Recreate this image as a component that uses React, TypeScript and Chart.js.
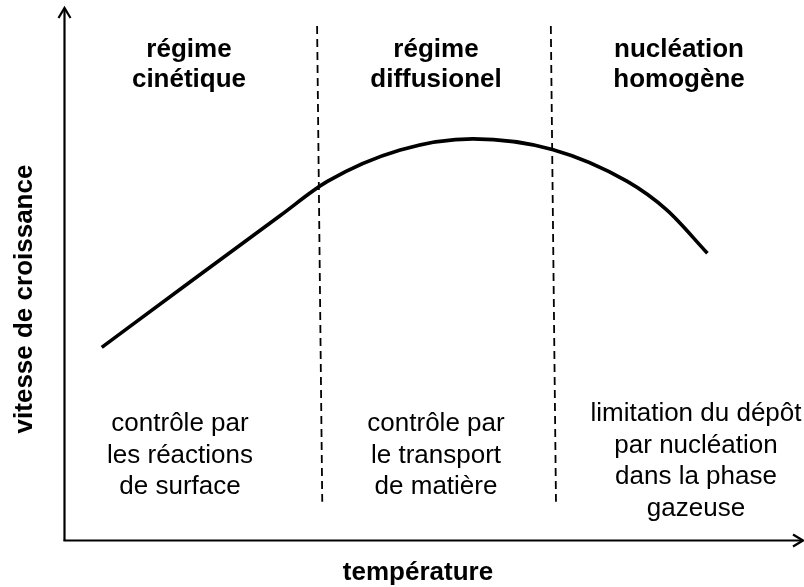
import React, { useEffect, useRef } from "react";
import { Chart, registerables } from "chart.js";

Chart.register(...registerables);

// Growth-rate curve (arbitrary units: temperature 0–10, rate 0–10)
const curveTemp = [0.5, 1.71, 2.93, 3.57, 4.56, 5.55, 6.63, 7.65, 8.19, 8.74];
const curveRate = [3.62, 4.86, 6.1, 6.74, 7.33, 7.54, 7.34, 6.74, 6.2, 5.39];

// Regime boundaries (dashed lines): [x at top, x at bottom]
const boundary1Temp = [3.43, 3.5];
const boundary2Temp = [6.61, 6.68];
const boundaryRate = [9.66, 0.72];

const regimeTitles = [
  ["régime", "cinétique"],
  ["régime", "diffusionel"],
  ["nucléation", "homogène"],
];
const regimeDescriptions = [
  ["contrôle par", "les réactions", "de surface"],
  ["contrôle par", "le transport", "de matière"],
  ["limitation du dépôt", "par nucléation", "dans la phase", "gazeuse"],
];
const xAxisTitle = "température";
const yAxisTitle = "vitesse de croissance";

const FONT = "'Liberation Sans', Arial, Helvetica, sans-serif";

const overlayPlugin = {
  id: "overlay",
  afterDraw(chart: any) {
    const ctx = chart.ctx as CanvasRenderingContext2D;
    const { left, right, top, bottom } = chart.chartArea;
    ctx.save();
    ctx.strokeStyle = "#000";
    ctx.fillStyle = "#000";
    ctx.lineWidth = 2.2;
    ctx.lineCap = "butt";
    // y axis
    ctx.beginPath();
    ctx.moveTo(left - 0.5, bottom + 1);
    ctx.lineTo(left - 0.5, top);
    ctx.stroke();
    ctx.beginPath();
    ctx.moveTo(left - 6.5, top + 10);
    ctx.lineTo(left - 0.5, top);
    ctx.lineTo(left + 5.5, top + 10);
    ctx.stroke();
    // x axis
    const xa = bottom + 0.5;
    ctx.beginPath();
    ctx.moveTo(left - 1.5, xa);
    ctx.lineTo(right + 3, xa);
    ctx.stroke();
    ctx.beginPath();
    ctx.moveTo(right - 7, xa - 6);
    ctx.lineTo(right + 3, xa);
    ctx.lineTo(right - 7, xa + 6);
    ctx.stroke();

    // regime titles
    ctx.textAlign = "center";
    ctx.textBaseline = "alphabetic";
    ctx.font = `bold 26px ${FONT}`;
    const titleCx = [189, 436, 679];
    regimeTitles.forEach((lines, i) => {
      lines.forEach((t, j) => ctx.fillText(t, titleCx[i], 57 + j * 30));
    });
    // descriptions
    ctx.font = `26px ${FONT}`;
    const descCx = [180, 436, 696];
    const descTop = [431, 431, 421];
    regimeDescriptions.forEach((lines, i) => {
      lines.forEach((t, j) => ctx.fillText(t, descCx[i], descTop[i] + j * 31.5));
    });
    // axis titles
    ctx.font = `bold 26px ${FONT}`;
    ctx.fillText(xAxisTitle, 418, 580);
    ctx.translate(25, 299);
    ctx.rotate(-Math.PI / 2);
    ctx.textBaseline = "middle";
    ctx.fillText(yAxisTitle, 0, 0);
    ctx.restore();
  },
};

export default function App() {
  const ref = useRef<HTMLCanvasElement>(null);
  useEffect(() => {
    if (!ref.current) return;
    const dashed = {
      borderColor: "#000",
      borderWidth: 1.8,
      borderDash: [8, 5],
      pointRadius: 0,
      showLine: true,
      fill: false,
    };
    const chart = new Chart(ref.current, {
      type: "scatter",
      data: {
        datasets: [
          {
            label: "vitesse",
            data: curveTemp.map((x, i) => ({ x, y: curveRate[i] })),
            showLine: true,
            borderColor: "#000",
            borderWidth: 3.6,
            pointRadius: 0,
            cubicInterpolationMode: "monotone",
            fill: false,
          },
          { label: "b1", data: boundary1Temp.map((x, i) => ({ x, y: boundaryRate[i] })), ...dashed },
          { label: "b2", data: boundary2Temp.map((x, i) => ({ x, y: boundaryRate[i] })), ...dashed },
        ],
      },
      options: {
        animation: false,
        responsive: false,
        devicePixelRatio: 1,
        layout: { padding: { left: 65, right: 4, top: 8, bottom: 47 } },
        plugins: { legend: { display: false }, tooltip: { enabled: false } },
        events: [],
        scales: {
          x: { type: "linear", min: 0, max: 10, display: false },
          y: { type: "linear", min: 0, max: 10, display: false },
        },
      },
      plugins: [overlayPlugin],
    } as any);
    return () => chart.destroy();
  }, []);
  return (
    <div style={{ position: "absolute", left: 0, top: 0, width: 804, height: 587, background: "#fff" }}>
      <canvas ref={ref} width={804} height={587} style={{ width: 804, height: 587, display: "block" }} />
    </div>
  );
}
